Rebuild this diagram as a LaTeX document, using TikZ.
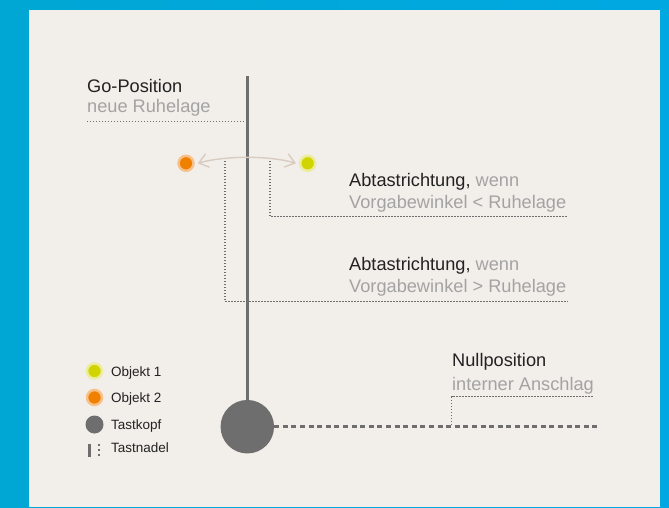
\documentclass[tikz,border=0pt]{standalone}
\usepackage{fontspec}
\setmainfont{Liberation Sans}
\usetikzlibrary{arrows.meta,calc}
\definecolor{blueL}{HTML}{00A7D4}
\definecolor{blueR}{HTML}{00A8E2}
\definecolor{panel}{HTML}{F2EFEA}
\definecolor{needle}{HTML}{6E6E6E}
\definecolor{txtdark}{HTML}{222222}
\definecolor{txtgray}{HTML}{A3A3A3}
\definecolor{orangeC}{HTML}{F08000}
\definecolor{orangeH}{HTML}{F8C18C}
\definecolor{yellowC}{HTML}{D2D400}
\definecolor{yellowH}{HTML}{EBEC9C}
\definecolor{arcC}{HTML}{D8CBC2}
\tikzset{
  main/.style={font=\fontsize{18.2}{21}\selectfont, anchor=base west, inner sep=0pt, text=txtdark},
  sub/.style={font=\fontsize{18.2}{21}\selectfont, anchor=base west, inner sep=0pt, text=txtgray},
  legend/.style={font=\fontsize{13.5}{16}\selectfont, anchor=base west, inner sep=0pt, text=txtdark},
  guide/.style={draw=needle, line width=1.4pt, dash pattern=on 1.4pt off 1.6pt},
  needleline/.style={draw=needle, line width=2.7pt},
  zeroline/.style={draw=needle, line width=2.5pt, dash pattern=on 5pt off 3.6pt},
  arcarrow/.style={draw=arcC, line width=1.4pt, {Straight Barb[length=9pt,width=14pt]}-{Straight Barb[length=9pt,width=14pt]}},
  dotO/.style={circle, fill=orangeC, draw=orangeH, line width=2.5pt, minimum size=15pt, inner sep=0pt},
  dotY/.style={circle, fill=yellowC, draw=yellowH, line width=2.5pt, minimum size=15pt, inner sep=0pt},
}
\begin{document}
\begin{tikzpicture}[x=1pt,y=-1pt]
\useasboundingbox (0,0) rectangle (669,507);
\shade[left color=blueL, right color=blueR] (0,0) rectangle (669,507);
\fill[panel] (29,10) rectangle (660,507);

% needle and head
\node[circle, fill=needle, minimum size=53.5pt, inner sep=0pt] (head) at (247.3,426.7) {};
\coordinate (needletop) at (247.3,76);
\draw[needleline] (needletop) -- (head.north);
\coordinate (zeroend) at (598,426.7);
\draw[zeroline] (head.east) -- (zeroend);

% Go-Position
\node[main] (go) at (87,92) {Go-Position};
\node[sub] (goSub) at (87,112.5) {neue Ruhelage};
\coordinate (goL) at (87,121.7);
\coordinate (goR) at (246,121.7);
\draw[guide] (goL) -- (goR);

% objects
\node[dotO] (o2) at (186,163.3) {};
\node[dotY] (o1) at (307.7,163.3) {};
\coordinate (arcL) at ($(o2.east)+(3pt,0)$);
\coordinate (arcR) at ($(o1.west)+(-3pt,0)$);
\draw[arcarrow] (arcL) .. controls (225,155.5) and (270,155.5) .. (arcR);

% Abtastrichtung 1
\coordinate (a1top) at (270,161);
\coordinate (a1c) at (270,216.7);
\coordinate (a1r) at (568,216.7);
\draw[guide] (a1top) -- (a1c) -- (a1r);
\node[main] (t1) at (349,186.7) {Abtastrichtung, \textcolor{txtgray}{wenn}};
\node[sub] (t1b) at (349,208) {Vorgabewinkel < Ruhelage};

% Abtastrichtung 2
\coordinate (a2top) at (225,161);
\coordinate (a2c) at (225,301.7);
\coordinate (a2r) at (568,301.7);
\draw[guide] (a2top) -- (a2c) -- (a2r);
\node[main] (t2) at (349,270) {Abtastrichtung, \textcolor{txtgray}{wenn}};
\node[sub] (t2b) at (349,292) {Vorgabewinkel > Ruhelage};

% Nullposition
\node[main] (np) at (452,366.7) {Nullposition};
\node[sub] (npb) at (452,390) {interner Anschlag};
\coordinate (nbot) at (451.7,425);
\coordinate (ncorner) at (451.7,396.7);
\coordinate (nright) at (594.3,396.7);
\draw[guide] (nbot) -- (ncorner) -- (nright);

% legend
\node[dotY] (l1) at (94.5,371) {};
\node[legend] (l1t) at (111,376.7) {Objekt 1};
\node[dotO] (l2) at (94.5,397.5) {};
\node[legend] (l2t) at (111,402.7) {Objekt 2};
\node[circle, fill=needle, minimum size=18pt, inner sep=0pt] (l3) at (94.5,424.5) {};
\node[legend] (l3t) at (111,429) {Tastkopf};
\coordinate (l4a) at (89,443.5);
\coordinate (l4b) at (89,456.5);
\draw[needle, line width=3pt] (l4a) -- (l4b);
\coordinate (l4c) at (99,443.5);
\coordinate (l4d) at (99,457.5);
\draw[needle, line width=2.6pt, dash pattern=on 2.6pt off 2.4pt] (l4c) -- (l4d);
\node[legend] (l4t) at (111,452.7) {Tastnadel};
\end{tikzpicture}
\end{document}
